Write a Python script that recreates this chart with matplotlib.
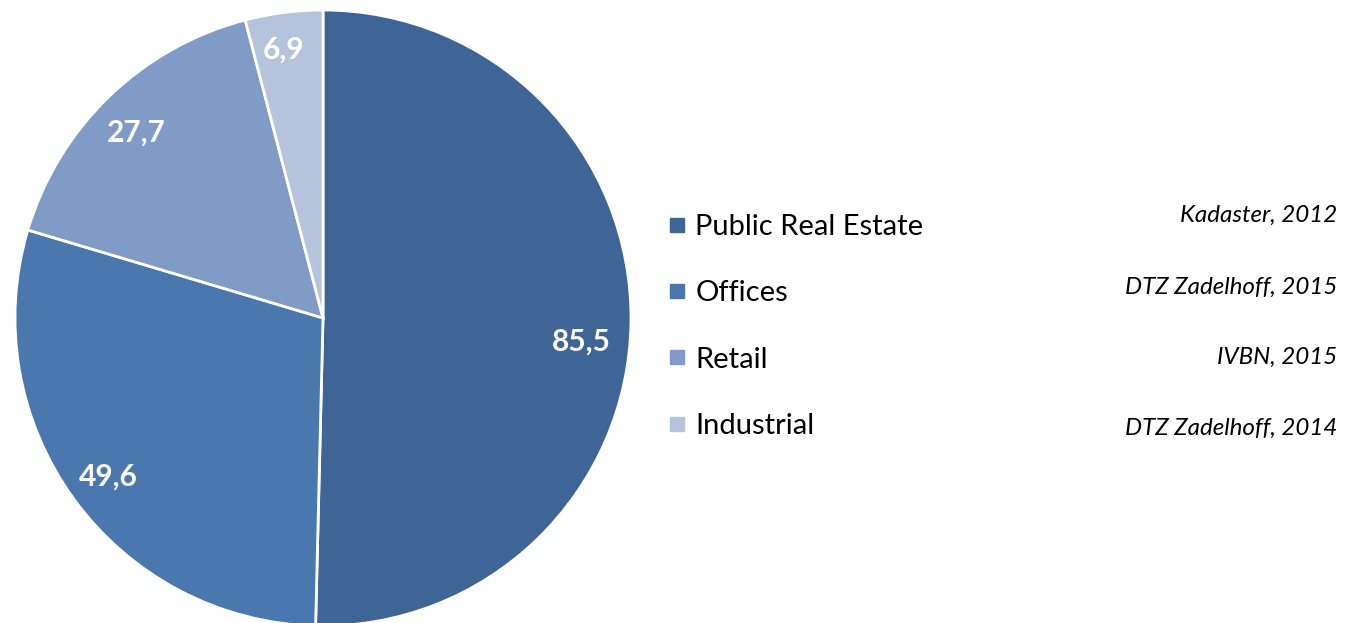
import matplotlib.pyplot as plt
from matplotlib.lines import Line2D
import numpy as np

categories = ['Public Real Estate', 'Offices', 'Retail', 'Industrial']
values = [85.5, 49.6, 27.7, 6.9]
sources = ['Kadaster, 2012', 'DTZ Zadelhoff, 2015', 'IVBN, 2015', 'DTZ Zadelhoff, 2014']
colors = ['#3E6595', '#4A78AE', '#809BC6', '#B5C3DD']

plt.rcParams['font.family'] = ['Lato', 'DejaVu Sans']

fig = plt.figure(figsize=(13.54, 6.23), dpi=100)
W, H = 1354, 623
cx, cy, r = 323, 318, 308
ax = fig.add_axes([(cx - r) / W, (H - cy - r) / H, 2 * r / W, 2 * r / H])

wedges, _ = ax.pie(values, colors=colors, startangle=90, counterclock=False,
                   radius=1, wedgeprops=dict(edgecolor='white', linewidth=2))
ax.set_xlim(-1, 1)
ax.set_ylim(-1, 1)
ax.set_aspect('equal')
ax.axis('off')

# value labels inside the slices, with a small nudge (in points) per label
nudge = [(-5, -15), (0, -2), (-2, -4), (-4, 4)]
for w, v, (dx, dy) in zip(wedges, values, nudge):
    mid = np.deg2rad((w.theta1 + w.theta2) / 2)
    d = 0.86
    ax.annotate(f'{v:.1f}'.replace('.', ','), (d * np.cos(mid), d * np.sin(mid)),
                xytext=(dx, dy), textcoords='offset points',
                ha='center', va='center', color='white', fontsize=21.5, fontweight='bold')

handles = [Line2D([], [], marker='s', linestyle='none', markersize=10,
                  markerfacecolor=c, markeredgecolor=c) for c in colors]
fig.legend(handles, categories, loc='upper left', bbox_to_anchor=(669 / W, 1 - 214 / H),
           frameon=False, fontsize=21, handlelength=0.55, handletextpad=0.35,
           labelspacing=1.38, borderaxespad=0, borderpad=0)

for i, s in enumerate(sources):
    y = [215, 287, 357, 428][i]
    fig.text(1337 / W, 1 - y / H, s, ha='right', va='center', fontsize=17.4,
             fontstyle='italic', color='black')

fig.savefig('out.png', dpi=100)
